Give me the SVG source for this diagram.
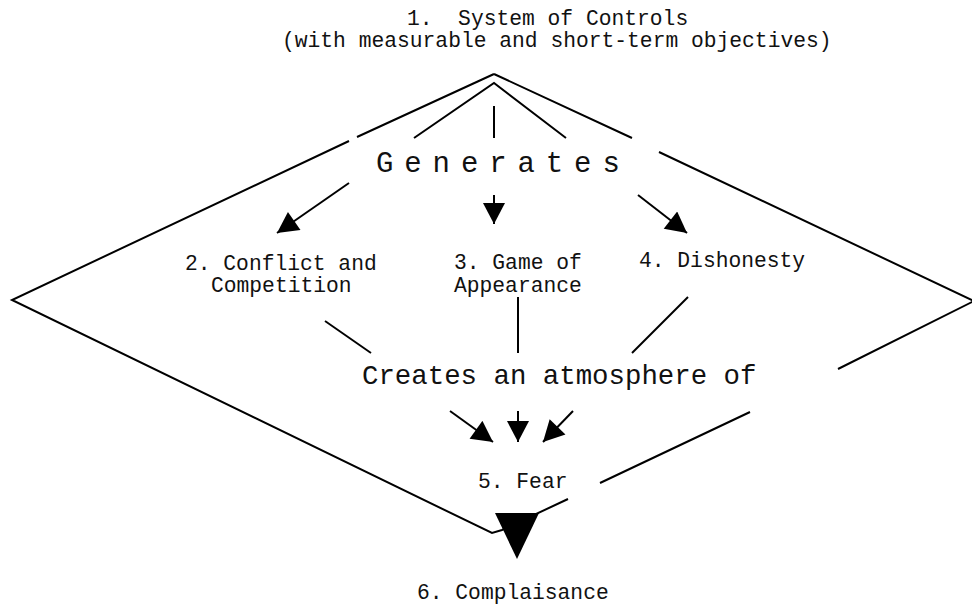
<svg xmlns="http://www.w3.org/2000/svg" width="972" height="604" viewBox="0 0 972 604">
<style>
.t{font-family:"Liberation Mono","DejaVu Sans Mono",monospace;font-size:21.3px;fill:#111}
.big{font-size:27.4px}
.gen{font-size:29px;letter-spacing:10.9px}
.ln{stroke:#000;stroke-width:2;fill:none}
.ar{stroke:#000;stroke-width:2;fill:none;marker-end:url(#ah)}
</style>
<defs>
<marker id="ah" markerUnits="userSpaceOnUse" markerWidth="22" markerHeight="22" viewBox="0 0 20 21" refX="20" refY="10.5" orient="auto">
<path d="M0,0 L20,10.5 L0,21 Z" fill="#000"/>
</marker>
</defs>
<rect width="972" height="604" fill="#fff"/>
<g id="connectors">
<path class="ln" d="M494,74 L357,137 M349,141 L12,300 L492,533 L502,530 L568,499 M600,483 L750,412 M838,369 L974,301 L659,152 M632,138 L494,74"/>
<path class="ln" d="M414,138 L494,83 L566,138 M494,106 L494,138"/>
<line class="ar" x1="349" y1="183" x2="277" y2="233"/>
<line class="ar" x1="494" y1="195" x2="494" y2="224"/>
<line class="ar" x1="638" y1="195" x2="687" y2="233"/>
<line class="ln" x1="325" y1="321" x2="371" y2="353"/>
<line class="ln" x1="518" y1="297" x2="518" y2="353"/>
<line class="ln" x1="688" y1="297" x2="632" y2="353"/>
<line class="ar" x1="450" y1="411" x2="493" y2="442"/>
<line class="ar" x1="518" y1="411" x2="518" y2="442"/>
<line class="ar" x1="573" y1="411" x2="543" y2="442"/>
<polygon points="495,513 539,513 517,559" fill="#000"/>
</g>
<g id="n1"><text class="t" x="407" y="25" xml:space="preserve">1.  System of Controls</text><text class="t" x="282" y="47">(with measurable and short-term objectives)</text></g>
<g id="generates"><text class="t gen" x="376" y="172">Generates</text></g>
<g id="n2"><text class="t" x="185" y="270">2. Conflict and</text><text class="t" x="211" y="292">Competition</text></g>
<g id="n3"><text class="t" x="454" y="269">3. Game of</text><text class="t" x="454" y="292">Appearance</text></g>
<g id="n4"><text class="t" x="639" y="267">4. Dishonesty</text></g>
<g id="creates"><text class="t big" x="362" y="384">Creates an atmosphere of</text></g>
<g id="n5"><text class="t" x="478" y="488">5. Fear</text></g>
<g id="n6"><text class="t" x="417" y="599">6. Complaisance</text></g>
</svg>
